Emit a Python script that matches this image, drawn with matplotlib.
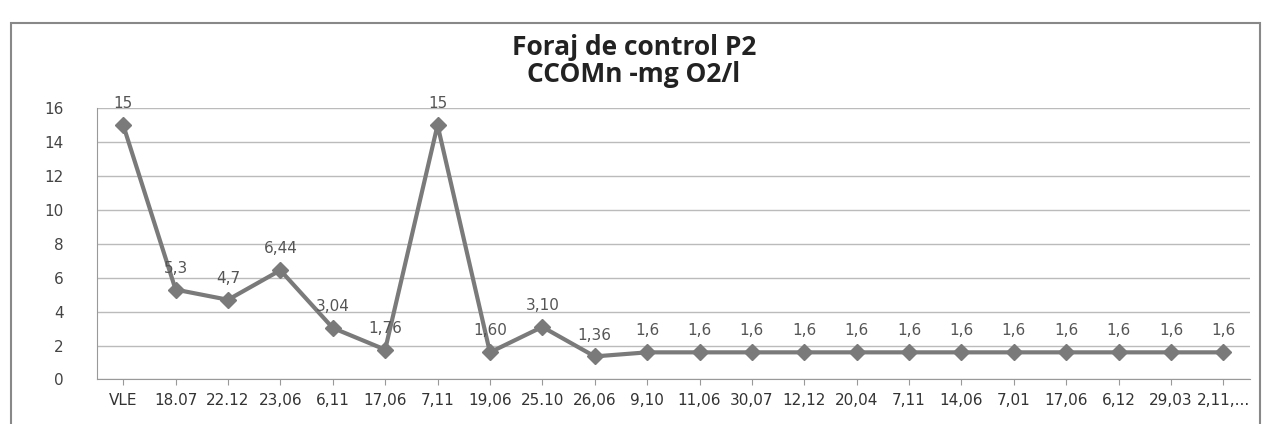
import matplotlib.pyplot as plt
from matplotlib.patches import Rectangle

plt.switch_backend('Agg')

# categories (sampling dates, as shown on the axis)
dates = ["VLE", "18.07", "22.12", "23,06", "6,11", "17,06", "7,11", "19,06",
         "25.10", "26,06", "9,10", "11,06", "30,07", "12,12", "20,04", "7,11",
         "14,06", "7,01", "17,06", "6,12", "29,03", "2,11,..."]
ccomn = [15, 5.3, 4.7, 6.44, 3.04, 1.76, 15, 1.60, 3.10, 1.36,
         1.6, 1.6, 1.6, 1.6, 1.6, 1.6, 1.6, 1.6, 1.6, 1.6, 1.6, 1.6]
point_labels = ["15", "5,3", "4,7", "6,44", "3,04", "1,76", "15", "1,60", "3,10", "1,36",
                "1,6", "1,6", "1,6", "1,6", "1,6", "1,6", "1,6", "1,6", "1,6", "1,6", "1,6", "1,6"]

line_col = "#7a7a7a"
text_col = "#555555"

fig = plt.figure(figsize=(12.68, 4.24), dpi=100)
fig.patches.append(Rectangle((0.009, -0.02), 0.985, 0.965, transform=fig.transFigure,
                             fill=False, edgecolor="#888888", linewidth=1.5))

ax = fig.add_axes([0.0765, 0.105, 0.909, 0.64])
x = list(range(len(dates)))
ax.plot(x, ccomn, color=line_col, linewidth=3, marker="D", markersize=8.5,
        markerfacecolor=line_col, markeredgecolor=line_col)

for xi, yi, lab in zip(x, ccomn, point_labels):
    ax.annotate(lab, (xi, yi), xytext=(0, 10), textcoords="offset points",
                ha="center", va="bottom", fontsize=11, color=text_col)

ax.set_xlim(-0.5, len(dates) - 0.5)
ax.set_ylim(0, 16)
ax.set_yticks(range(0, 17, 2))
ax.set_xticks(x)
ax.set_xticklabels(dates, fontsize=11, color="#333333")
ax.tick_params(axis="y", labelsize=11, labelcolor="#444444", length=0, pad=24)
ax.tick_params(axis="x", length=4, color="#999999", pad=6)
ax.grid(axis="y", color="#bbbbbb", linewidth=1)
ax.set_axisbelow(True)
for s in ["top", "right"]:
    ax.spines[s].set_visible(False)
ax.spines["left"].set_color("#999999")
ax.spines["bottom"].set_color("#999999")

fig.text(0.5, 0.857, "Foraj de control P2\nCCOMn -mg O2/l", ha="center", va="center",
         fontsize=19, fontweight="bold", family="Open Sans", color="#222222",
         linespacing=1.0)

fig.savefig("out.png", dpi=100)
